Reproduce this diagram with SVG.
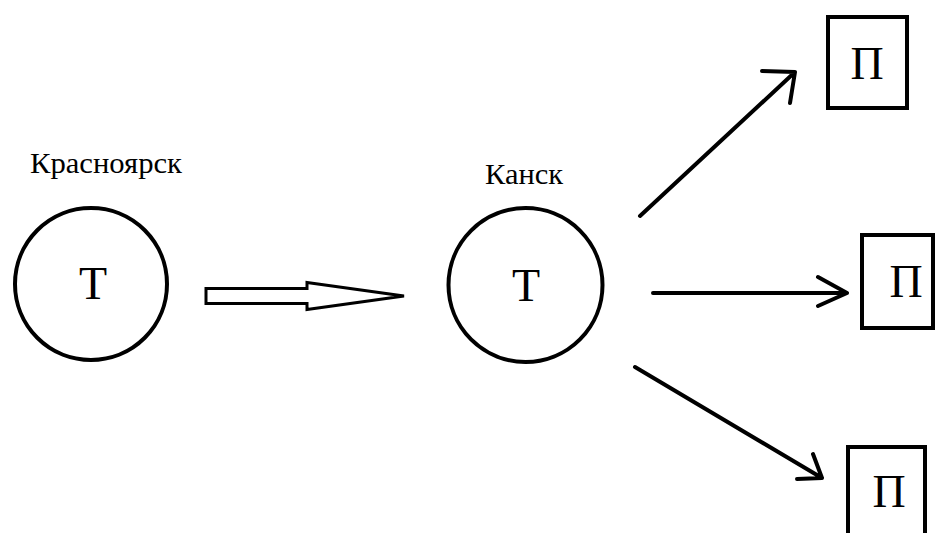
<svg xmlns="http://www.w3.org/2000/svg" width="936" height="533" viewBox="0 0 936 533">
<style>
.node{fill:none;stroke:#000;stroke-width:4}
.lbl{font-family:"Liberation Serif","Times New Roman",serif;fill:#000}
.city{font-size:29px}
.big{font-size:46px;text-anchor:middle}
.con{fill:none;stroke:#000;stroke-width:4;stroke-linecap:round;stroke-linejoin:round}
</style>
<rect width="936" height="533" fill="#fff"/>
<g id="krasnoyarsk">
<circle class="node" cx="91" cy="284" r="76"/>
<text class="lbl big" x="93" y="299">Т</text>
<text class="lbl city" x="30" y="173" textLength="152" lengthAdjust="spacingAndGlyphs">Красноярск</text>
</g>
<g id="kansk">
<circle class="node" cx="525.5" cy="285" r="77"/>
<text class="lbl big" x="526" y="301">Т</text>
<text class="lbl city" x="485" y="184" textLength="78" lengthAdjust="spacingAndGlyphs">Канск</text>
</g>
<g id="p-top">
<rect class="node" x="828" y="17" width="79" height="91"/>
<text class="lbl big" x="867" y="79">П</text>
</g>
<g id="p-mid">
<rect class="node" x="862" y="235" width="71" height="93"/>
<text class="lbl big" x="906" y="297">П</text>
</g>
<g id="p-bot">
<rect class="node" x="848" y="447" width="77" height="95"/>
<text class="lbl big" x="889" y="507">П</text>
</g>
<g id="connectors">
<path d="M206 288.5 H307 V282.5 L404 296 L307 309.5 V303.5 H206 Z" fill="#fff" stroke="#000" stroke-width="3" stroke-linejoin="miter"/>
<path class="con" d="M640 216 L795 72 M762 71 L795 72 L790 103"/>
<path class="con" d="M653 293 H847 M818 277 L847 293 L818 306"/>
<path class="con" d="M635 367 L822 478 M797 479 L822 478 L813 454"/>
</g>
</svg>
